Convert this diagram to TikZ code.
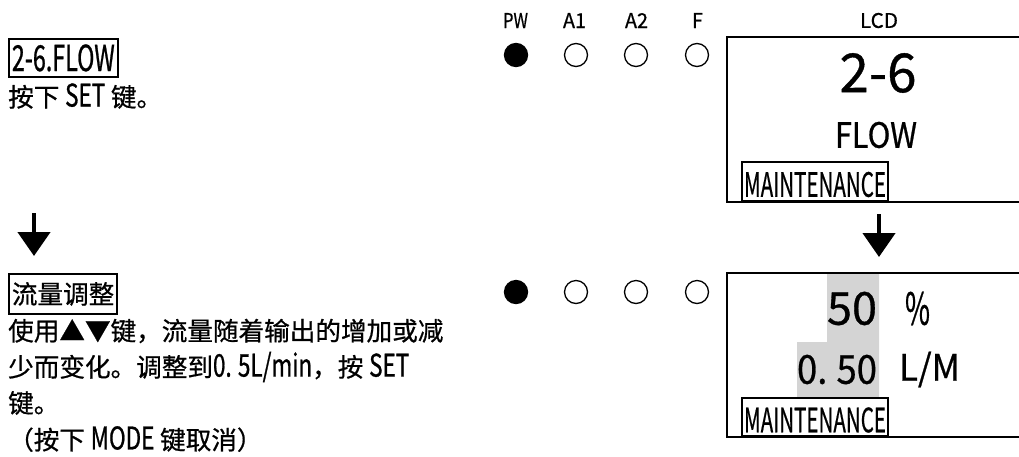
\documentclass[tikz,border=0pt]{standalone}
\usepackage{fontspec}
\usepackage{graphicx}
\setmainfont{Noto Sans CJK SC}[FakeBold=0.7]
\newfontfamily\latn[Scale=1.4,FakeStretch=0.65,FakeBold=0.7]{Noto Sans CJK SC}
\newfontfamily\latb[Scale=1.22,FakeStretch=0.72,FakeBold=0.7]{Noto Sans CJK SC}
\usetikzlibrary{arrows.meta}
\newcommand{\fitto}[3]{\resizebox{#1}{#2}{#3}}
\begin{document}
\begin{tikzpicture}[x=1pt,y=-1pt,
  lbl/.style={inner sep=0pt, font=\fontsize{20}{20}\selectfont},
  led/.style={circle, draw, line width=1.3pt, minimum size=23pt, inner sep=0pt},
  ledon/.style={led, fill=black},
  lcd/.style={draw, line width=2.4pt, minimum width=304pt, inner sep=0pt},
  mbox/.style={draw, line width=2pt, minimum width=146pt, inner sep=0pt},
  lcdtxt/.style={inner sep=0pt},
  tbox/.style={draw, line width=1.8pt, inner xsep=3pt, inner ysep=0pt, anchor=north west, font=\fontsize{25.6}{25.6}\selectfont},
  body/.style={inner sep=0pt, anchor=west, font=\fontsize{25.6}{25.6}\selectfont},
  flowarrow/.style={line width=4.5pt, -{Triangle[width=32pt,length=24pt]}}]
\useasboundingbox (0,0) rectangle (1019,456);
\clip (0,0) rectangle (1019,456);
% LED labels
\node[lbl] (lpw) at (515.5,20.5) {\fitto{25pt}{15pt}{PW}};
\node[lbl] (la1) at (574.5,20.5) {\fitto{23pt}{15pt}{A1}};
\node[lbl] (la2) at (636.5,20.5) {\fitto{23pt}{15pt}{A2}};
\node[lbl] (lf) at (697.5,20.5) {\fitto{11pt}{15pt}{F}};
\node[lbl] (llcd) at (879,20.5) {\fitto{38pt}{15pt}{LCD}};
% LEDs row 1
\node[ledon] (pw1) at (516,55) {};
\node[led] (a11) at (576,55) {};
\node[led] (a21) at (636,55) {};
\node[led] (f1) at (697,55) {};
% LEDs row 2
\node[ledon] (pw2) at (516,292) {};
\node[led] (a12) at (576,292) {};
\node[led] (a22) at (636,292) {};
\node[led] (f2) at (697,292) {};
% LCD 1
\node[lcd, minimum height=165pt] (lcd1) at (879,119.5) {};
\node[lcdtxt] (s1) at (878,73) {\fitto{77pt}{39pt}{2-6}};
\node[lcdtxt] (s2) at (876,135) {\fitto{82pt}{26pt}{FLOW}};
\node[mbox, minimum height=39pt] (m1) at (815,181.5) {};
\node[lcdtxt] (m1t) at (815,184.5) {\fitto{142pt}{25pt}{MAINTENANCE}};
% LCD 2
\fill[black!17] (827,273) -- (879,273) -- (879,398) -- (797,398) -- (797,342) -- (827,342) -- cycle;
\node[lcd, minimum height=164pt] (lcd2) at (879,355) {};
\node[lcdtxt] (v1) at (852,308.5) {\fitto{50pt}{33pt}{50}};
\node[lcdtxt] (u1) at (917.5,308.5) {\fitto{25pt}{33pt}{\%}};
\node[lcdtxt] (v2) at (837,369.5) {\fitto{80pt}{29pt}{0.\kern0.25em 50}};
\node[lcdtxt] (u2) at (929.5,369.5) {\fitto{61pt}{29pt}{L/M}};
\node[mbox, minimum height=38pt] (m2) at (815,417) {};
\node[lcdtxt] (m2t) at (815,420) {\fitto{142pt}{25pt}{MAINTENANCE}};
\draw[flowarrow] (lcd1.south) ++(0,11) coordinate (ra1) (ra1) -- (lcd2.north |- 0,257) coordinate (ra2);
% left text
\node[tbox, minimum width=107pt, minimum height=38pt] (t1) at (8,38) {{\latn 2-6.FLOW}};
\node[body] (b1) at (8,96) {按下 {\latb SET} 键。};
\coordinate (la) at (34,213);
\coordinate (lb) at (34,256);
\draw[flowarrow] (la) -- (lb);
\node[tbox, minimum width=107pt, minimum height=40pt] (t2) at (8,273) {流量调整};
\node[body] (c1) at (8,331) {使用▲▼键，流量随着输出的增加或减};
\node[body] (c2) at (8,367) {少而变化。调整到{\latb 0.\kern0.2em 5L/min}，按 {\latb SET}};
\node[body] (c3) at (8,403) {键。};
\node[body] (c4) at (8,439) {（按下 {\latb MODE} 键取消）};
\end{tikzpicture}
\end{document}
